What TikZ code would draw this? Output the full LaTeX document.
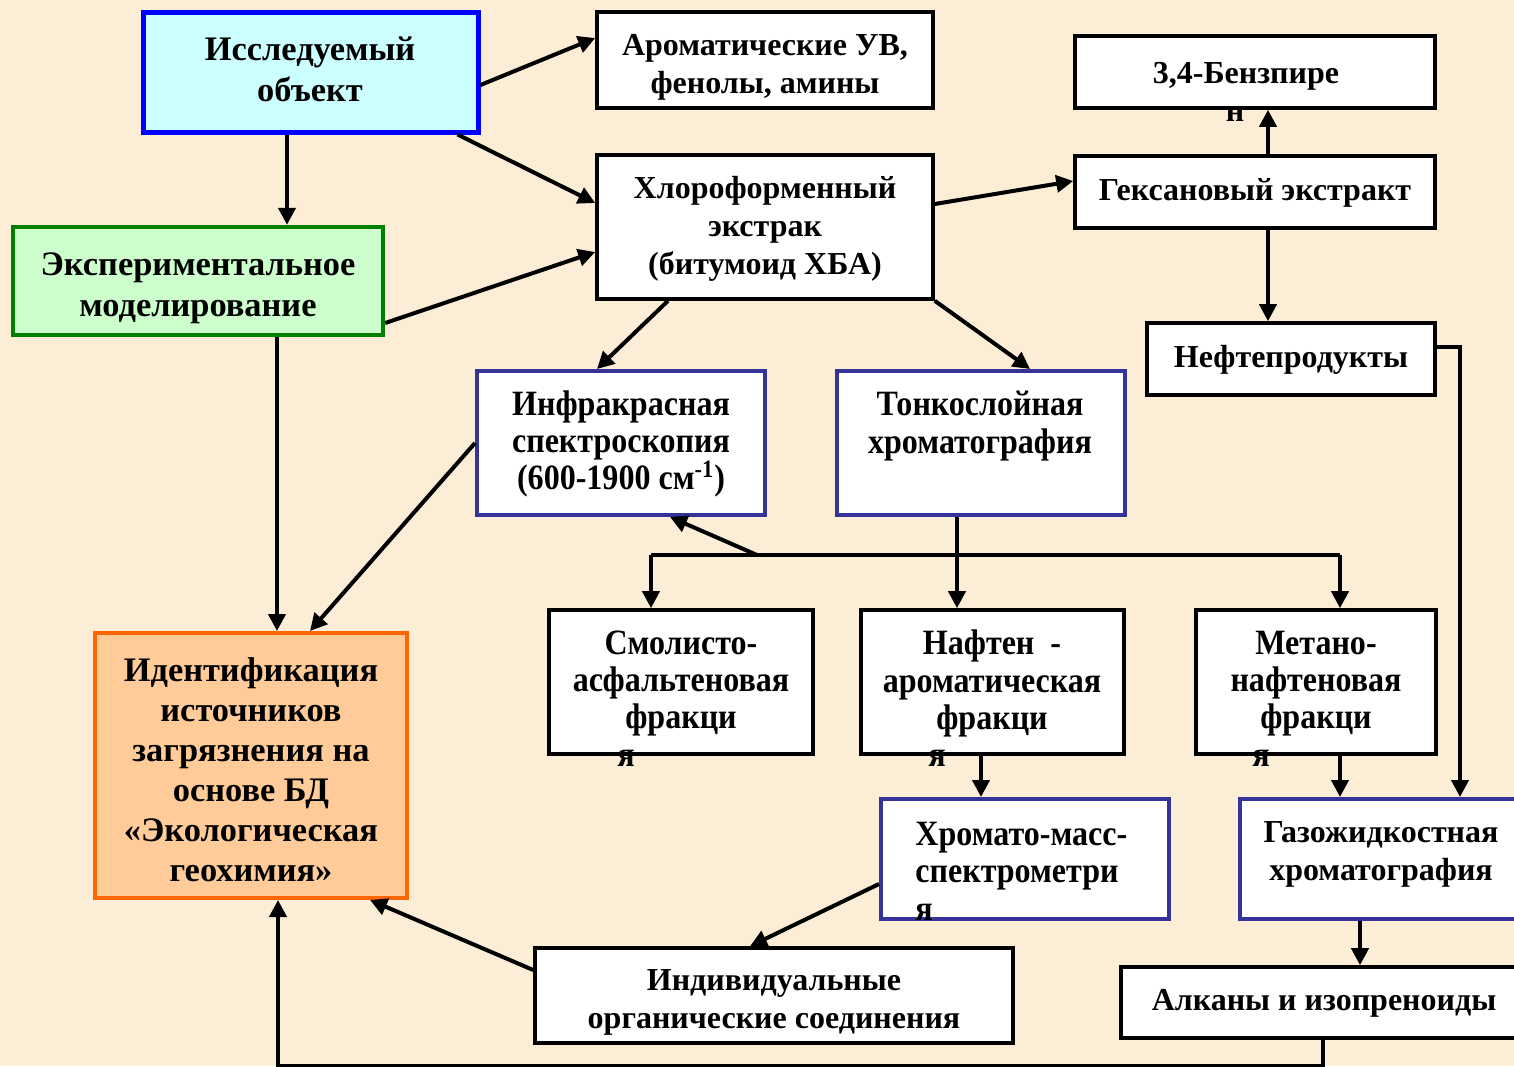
\documentclass[tikz,border=0pt]{standalone}
\usepackage{fontspec}
\setmainfont{Liberation Serif}
\newfontfamily\condf{Liberation Serif}[FakeStretch=0.9]
\usetikzlibrary{arrows.meta,calc}
\definecolor{bg}{RGB}{251,237,214}
\definecolor{bluebd}{RGB}{0,0,255}
\definecolor{cyanfill}{RGB}{204,255,255}
\definecolor{greenbd}{RGB}{0,128,0}
\definecolor{greenfill}{RGB}{204,255,204}
\definecolor{navybd}{RGB}{51,51,153}
\definecolor{orangebd}{RGB}{255,102,0}
\definecolor{orangefill}{RGB}{255,204,153}
\tikzset{
  bx/.style={draw=black,line width=1.8pt,fill=white,inner sep=0pt},
  nbx/.style={draw=navybd,line width=2pt,fill=white,inner sep=0pt},
  big/.style={inner sep=0pt,align=center,font=\fontsize{17.2}{20.5}\selectfont\bfseries},
  reg/.style={inner sep=0pt,align=center,font=\fontsize{16}{19}\selectfont\bfseries},
  cnd/.style={inner sep=0pt,align=center,font=\condf\fontsize{17.8}{18.7}\selectfont\bfseries},
  arr/.style={line width=2pt,-{Triangle[length=8.5pt,width=8.5pt]}},
  ln/.style={line width=2pt}
}
\begin{document}
\begin{tikzpicture}[x=0.5pt,y=-0.5pt]
\fill[bg] (0,0) rectangle (1514,1066);
\useasboundingbox (0,0) rectangle (1514,1066);
\clip (0,0) rectangle (1514,1066);
% boxes
\node[draw=bluebd,line width=2.5pt,fill=cyanfill,minimum width=167.5pt,minimum height=60pt] (iss) at (310.5,72) {};
\node[bx,minimum width=168pt,minimum height=48pt] (aro) at (765,60) {};
\node[bx,minimum width=168pt,minimum height=72pt] (chl) at (765,227) {};
\node[bx,minimum width=180pt,minimum height=36pt] (bzp) at (1255,72) {};
\node[bx,minimum width=180pt,minimum height=36pt] (hex) at (1255,192) {};
\node[bx,minimum width=144pt,minimum height=36pt] (oil) at (1291,359) {};
\node[draw=greenbd,line width=2.2pt,fill=greenfill,minimum width=185pt,minimum height=54pt] (exp) at (198,281) {};
\node[nbx,minimum width=144pt,minimum height=72pt] (ir) at (621,443) {};
\node[nbx,minimum width=144pt,minimum height=72pt] (tlc) at (981,443) {};
\node[bx,minimum width=132pt,minimum height=72pt] (smol) at (681,682) {};
\node[bx,minimum width=131.5pt,minimum height=72pt] (nap) at (992.5,682) {};
\node[bx,minimum width=120pt,minimum height=72pt] (met) at (1316,682) {};
\node[nbx,minimum width=144pt,minimum height=60pt] (hms) at (1025,859) {};
\node[nbx,minimum width=145pt,minimum height=60pt] (gas) at (1385,859) {};
\node[draw=orangebd,line width=2pt,fill=orangefill,minimum width=156pt,minimum height=132.5pt] (idn) at (251,765.5) {};
\node[bx,minimum width=239pt,minimum height=47.5pt] (ind) at (774,995.5) {};
\node[bx,minimum width=204.5pt,minimum height=35.5pt] (alk) at (1325.5,1002.5) {};
% texts
\node[big] (t-iss) at (310,69) {Исследуемый\\объект};
\node[reg] (t-aro) at (765,67) {Ароматические УВ,\\фенолы, амины};
\node[reg] (t-chl) at (765,228.5) {Хлороформенный\\экстрак\\(битумоид ХБА)};
\node[reg] (t-bzp) at (1246,92) {3,4-Бензпире\\н\hspace*{11pt}};
\node[reg] (t-hex) at (1255,193) {Гексановый экстракт};
\node[reg] (t-oil) at (1291,360) {Нефтепродукты};
\node[big] (t-exp) at (198,288) {Экспериментальное\\моделирование};
\node[cnd] (t-ir) at (621,444) {Инфракрасная\\спектроскопия\\(600-1900 см\textsuperscript{-1})};
\node[cnd] (t-tlc) at (980,426) {Тонкослойная\\хроматография};
\node[cnd] (t-smol) at (681,698.5) {Смолисто-\\асфальтеновая\\фракци\hspace*{8pt}\\я\hspace*{55pt}};
\node[cnd] (t-nap) at (992,698.5) {Нафтен\ \ -\\ароматическая\\фракци\hspace*{8pt}\\я\hspace*{55pt}};
\node[cnd] (t-met) at (1316,698.5) {Метано-\\нафтеновая\\фракци\hspace*{8pt}\\я\hspace*{55pt}};
\node[cnd,align=left,anchor=west] (t-hms) at (915,871) {Хромато-масс-\\спектрометри\\я};
\node[reg] (t-gas) at (1381,854) {Газожидкостная\\хроматография};
\node[big,font=\fontsize{17.2}{20}\selectfont\bfseries] (t-idn) at (251,770) {Идентификация\\источников\\загрязнения на\\основе БД\\«Экологическая\\геохимия»};
\node[reg] (t-ind) at (774,1002) {Индивидуальные\\органические соединения};
\node[reg] (t-alk) at (1324,1003) {Алканы и изопреноиды};
% connectors
\draw[arr] ($(iss.east)+(0,13)$) -- ($(aro.west)+(0,-22)$);
\draw[arr] ($(iss.south east)+(-23,0)$) -- ($(chl.west)+(0,-24)$);
\draw[arr] ($(iss.south)+(-23.5,0)$) -- ($(exp.north)+(89,0)$);
\draw[arr] ($(exp.east)+(0,42)$) -- ($(chl.west)+(0,25)$);
\draw[arr] ($(exp.south)+(79,0)$) -- ($(idn.north)+(26,0)$);
\draw[arr] ($(chl.east)+(0,-23)$) -- ($(hex.west)+(0,-11)$);
\draw[arr] ($(chl.south)+(-97,0)$) -- ($(ir.north)+(-24,0)$);
\draw[arr] (chl.south east) -- ($(tlc.north)+(49,0)$);
\draw[arr] ($(hex.north)+(13,0)$) -- ($(bzp.south)+(13,0)$);
\draw[arr] ($(hex.south)+(13,0)$) -- ($(oil.north)+(-23,0)$);
\draw[arr] ($(oil.east)+(0,-12)$) -| ($(gas.north)+(75,0)$);
\draw[arr] (ir.west) -- ($(idn.north)+(59,0)$);
\draw[arr] ($(tlc.south)+(-24,0)$) -- ($(nap.north)+(-35.5,0)$);
\coordinate (busl) at (651,555);
\coordinate (busr) at (1340,555);
\coordinate (busir) at (757,555);
\draw[ln] (busl) -- (busr);
\draw[arr] (busl) -- ($(smol.north)+(-30,0)$);
\draw[arr] (busr) -- ($(met.north)+(24,0)$);
\draw[arr] (busir) -- ($(ir.south)+(49,0)$);
\draw[arr] ($(nap.south)+(-11.5,0)$) -- ($(hms.north)+(-44,0)$);
\draw[arr] ($(met.south)+(24,0)$) -- ($(gas.north)+(-45,0)$);
\draw[arr] ($(hms.west)+(0,25)$) -- ($(ind.north)+(-24,0)$);
\draw[arr] ($(ind.west)+(0,-25.5)$) -- ($(idn.south east)+(-39,0)$);
\draw[arr] ($(gas.south)+(-25,0)$) -- ($(alk.north)+(34.5,0)$);
\draw[arr] ($(alk.south)+(-2.5,0)$) -- ++(0,26) -| ($(idn.south)+(27,0)$);
\end{tikzpicture}
\end{document}
